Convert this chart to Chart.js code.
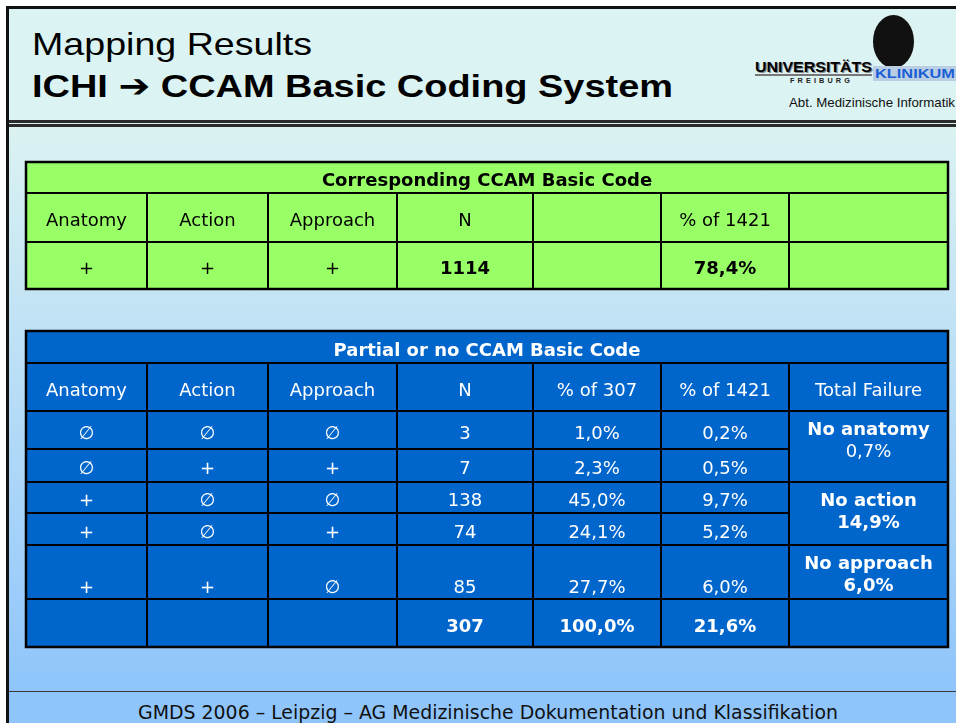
<!DOCTYPE html>
<html>
<head>
<meta charset="utf-8">
<title>Mapping Results ICHI - CCAM</title>
<script src="https://cdn.jsdelivr.net/npm/chart.js@4.4.1/dist/chart.umd.min.js"></script>
<style>
html, body { margin: 0; padding: 0; }
body { width: 956px; height: 723px; position: relative; overflow: hidden; background: #fff; }
.abs { position: absolute; }
#frame { left: 6px; top: 6px; width: 950px; height: 717px; background: #111; }
#header { left: 9px; top: 9px; width: 947px; height: 118px; background: #dbf3f2; }
#rule1 { left: 9px; top: 120px; width: 947px; height: 3px; background: #2b2b2b; }
#rule2 { left: 9px; top: 124px; width: 947px; height: 3px; background: #2b2b2b; }
#content { left: 9px; top: 127px; width: 947px; height: 564px; background: linear-gradient(#dbf2f1, #8fc5fc); }
#footLine { left: 9px; top: 691px; width: 947px; height: 1px; background: #3a3a3a; }
#footer { left: 9px; top: 692px; width: 947px; height: 31px; background: #8fc5fb; }
.fit { white-space: nowrap; transform-origin: 0 0; display: inline-block; }
.title { font-family: 'Liberation Sans', Arial, sans-serif; font-size: 32px; line-height: 32px; color: #000; }
#t1 { left: 32px; top: 28px; }
#t2 { left: 32px; top: 70px; font-weight: bold; }
#foot { left: 138px; top: 703px; font-family: 'DejaVu Sans', sans-serif; font-size: 19px; line-height: 19px; color: #111; }
#seal { left: 873px; top: 15px; width: 41px; height: 53px; border-radius: 50%; background: #111; }
#uni { left: 755px; top: 60px; font-family: 'Liberation Sans', Arial, sans-serif; font-weight: bold; font-size: 14px; line-height: 14px; color: #000; text-shadow: 1px 1px 0 #888; }
#uniLine { left: 755px; top: 74px; width: 117px; height: 2px; background: #777; }
#frei { left: 790px; top: 77px; font-family: 'Liberation Sans', Arial, sans-serif; font-weight: bold; font-size: 7px; line-height: 7px; letter-spacing: 3px; color: #222; }
#kliBox { left: 873px; top: 66px; width: 83px; height: 15px; background: #b9cde3; }
#kli { left: 875px; top: 67px; font-family: 'Liberation Sans', Arial, sans-serif; font-weight: bold; font-size: 13px; line-height: 13px; color: #1a5fd6; }
#abt { left: 789px; top: 96px; font-family: 'Liberation Sans', Arial, sans-serif; font-size: 13px; line-height: 13px; color: #111; }
#chart { left: 0; top: 0; }
</style>
</head>
<body>
<div id="frame" class="abs"></div>
<div id="header" class="abs"></div>
<div id="rule1" class="abs"></div>
<div id="rule2" class="abs"></div>
<div id="content" class="abs"></div>
<div id="footLine" class="abs"></div>
<div id="footer" class="abs"></div>

<div id="t1" class="abs title fit" data-w="280">Mapping Results</div>
<div id="t2" class="abs title fit" data-w="641">ICHI <span style="font-family:'DejaVu Sans',sans-serif">➔</span> CCAM Basic Coding System</div>

<div id="seal" class="abs"></div>
<div id="uni" class="abs fit" data-w="117">UNIVERSITÄTS</div>
<div id="uniLine" class="abs"></div>
<div id="frei" class="abs fit" data-w="63">FREIBURG</div>
<div id="kliBox" class="abs"></div>
<div id="kli" class="abs fit" data-w="80">KLINIKUM</div>
<div id="abt" class="abs fit" data-w="166">Abt. Medizinische Informatik</div>

<div id="foot" class="abs fit" data-w="700">GMDS 2006 – Leipzig – AG Medizinische Dokumentation und Klassifikation</div>

<canvas id="chart" class="abs" width="956" height="723"></canvas>

<script>
// ---- data: table 1 (full match) ----
const t1Title = 'Corresponding CCAM Basic Code';
const t1Headers = ['Anatomy', 'Action', 'Approach', 'N', '', '% of 1421', ''];
const t1Axes = ['+', '+', '+'];
const t1N = 1114;
const t1Pct1421 = 78.4;

// ---- data: table 2 (partial or no match) ----
const t2Title = 'Partial or no CCAM Basic Code';
const t2Headers = ['Anatomy', 'Action', 'Approach', 'N', '% of 307', '% of 1421', 'Total Failure'];
const anatomy = ['∅', '∅', '+', '+', '+'];
const action = ['∅', '+', '∅', '∅', '+'];
const approach = ['∅', '+', '∅', '+', '∅'];
const nCases = [3, 7, 138, 74, 85];
const pctOf307 = [1.0, 2.3, 45.0, 24.1, 27.7];
const pctOf1421 = [0.2, 0.5, 9.7, 5.2, 6.0];
const totalN = 307;
const totalPct307 = 100.0;
const totalPct1421 = 21.6;
const failureLabels = ['No anatomy', 'No action', 'No approach'];
const failurePct = [0.7, 14.9, 6.0];
const failureRows = [[0, 2], [2, 4], [4, 5]]; // which data rows each failure cell spans

// ---- layout ----
const colWidths = [121, 121, 129, 136, 128, 128, 159];
const t1RowHeights = [31, 49, 47];
const tableGap = 42;
const t2RowHeights = [32, 48, 38, 33, 31, 32, 54, 48];
const GREEN = '#99ff66';
const BLUE = '#0066cc';
const FONT = "'DejaVu Sans', Verdana, sans-serif";

const colEdges = [0];
colWidths.forEach(w => colEdges.push(colEdges[colEdges.length - 1] + w));
const t1Edges = [0];
t1RowHeights.forEach(h => t1Edges.push(t1Edges[t1Edges.length - 1] + h));
const t2Edges = [t1Edges[t1Edges.length - 1] + tableGap];
t2RowHeights.forEach(h => t2Edges.push(t2Edges[t2Edges.length - 1] + h));
const totalWidth = colEdges[colEdges.length - 1];
const totalHeight = t2Edges[t2Edges.length - 1];

const fmt = v => v.toFixed(1).replace('.', ',') + '%';

// fit html text widths
document.querySelectorAll('.fit').forEach(el => {
    const w = el.getBoundingClientRect().width;
    el.style.transform = 'scaleX(' + (Number(el.dataset.w) / w) + ')';
});

const tablePlugin = {
    id: 'tables',
    afterDraw(chart) {
        const { ctx, scales: { x, y } } = chart;
        const px = c => x.getPixelForValue(colEdges[c]);

        function cell(c0, c1, top, bottom, fill) {
            const x0 = px(c0), x1 = px(c1);
            const y0 = y.getPixelForValue(top), y1 = y.getPixelForValue(bottom);
            ctx.fillStyle = fill;
            ctx.fillRect(x0, y0, x1 - x0, y1 - y0);
            ctx.strokeStyle = '#000';
            ctx.lineWidth = 2;
            ctx.strokeRect(x0, y0, x1 - x0, y1 - y0);
        }
        function text(str, c0, c1, base, bold, color) {
            if (str === '') return;
            ctx.font = (bold ? 'bold ' : '') + '18px ' + FONT;
            ctx.fillStyle = color;
            ctx.textAlign = 'center';
            ctx.textBaseline = 'alphabetic';
            ctx.fillText(str, (px(c0) + px(c1)) / 2, y.getPixelForValue(base));
        }
        const mid = (e, r) => (e[r] + e[r + 1]) / 2 + 8.5;

        ctx.save();
        // table 1
        cell(0, 7, t1Edges[0], t1Edges[1], GREEN);
        text(t1Title, 0, 7, mid(t1Edges, 0), true, '#000');
        t1Headers.forEach((h, c) => {
            cell(c, c + 1, t1Edges[1], t1Edges[2], GREEN);
            text(h, c, c + 1, mid(t1Edges, 1), false, '#000');
        });
        const t1Values = [...t1Axes, String(t1N), '', fmt(t1Pct1421), ''];
        t1Values.forEach((v, c) => {
            cell(c, c + 1, t1Edges[2], t1Edges[3], GREEN);
            text(v, c, c + 1, mid(t1Edges, 2), c >= 3, '#000');
        });
        ctx.lineWidth = 2.5;
        ctx.strokeRect(px(0), y.getPixelForValue(t1Edges[0]), px(7) - px(0),
            y.getPixelForValue(t1Edges[3]) - y.getPixelForValue(t1Edges[0]));

        // table 2
        const W = '#fff';
        cell(0, 7, t2Edges[0], t2Edges[1], BLUE);
        text(t2Title, 0, 7, mid(t2Edges, 0), true, W);
        t2Headers.forEach((h, c) => {
            cell(c, c + 1, t2Edges[1], t2Edges[2], BLUE);
            text(h, c, c + 1, mid(t2Edges, 1), false, W);
        });
        nCases.forEach((n, i) => {
            const r = 2 + i;
            const vals = [anatomy[i], action[i], approach[i], String(n), fmt(pctOf307[i]), fmt(pctOf1421[i])];
            const last = i === nCases.length - 1;
            const base = last ? t2Edges[r + 1] - 6.5 : mid(t2Edges, r);
            vals.forEach((v, c) => {
                cell(c, c + 1, t2Edges[r], t2Edges[r + 1], BLUE);
                text(v, c, c + 1, base, false, W);
            });
        });
        failureLabels.forEach((lab, k) => {
            const top = t2Edges[2 + failureRows[k][0]];
            const bottom = t2Edges[2 + failureRows[k][1]];
            cell(6, 7, top, bottom, BLUE);
            text(lab, 6, 7, top + 23.5, true, W);
            text(fmt(failurePct[k]), 6, 7, top + 46, k > 0, W);
        });
        const tr = t2Edges.length - 2;
        const totals = ['', '', '', String(totalN), fmt(totalPct307), fmt(totalPct1421), ''];
        totals.forEach((v, c) => {
            cell(c, c + 1, t2Edges[tr], t2Edges[tr + 1], BLUE);
            text(v, c, c + 1, mid(t2Edges, tr), true, W);
        });
        ctx.lineWidth = 2.5;
        ctx.strokeStyle = '#000';
        ctx.strokeRect(px(0), y.getPixelForValue(t2Edges[0]), px(7) - px(0),
            y.getPixelForValue(t2Edges[t2Edges.length - 1]) - y.getPixelForValue(t2Edges[0]));
        ctx.restore();
    }
};

new Chart(document.getElementById('chart'), {
    type: 'scatter',
    data: { datasets: [] },
    options: {
        responsive: false,
        animation: false,
        events: [],
        layout: { padding: { left: 26, right: 956 - 26 - totalWidth, top: 162, bottom: 723 - 162 - totalHeight } },
        plugins: { legend: { display: false }, tooltip: { enabled: false } },
        scales: {
            x: { type: 'linear', min: 0, max: totalWidth, display: false },
            y: { type: 'linear', min: 0, max: totalHeight, reverse: true, display: false }
        }
    },
    plugins: [tablePlugin]
});
</script>
</body>
</html>
